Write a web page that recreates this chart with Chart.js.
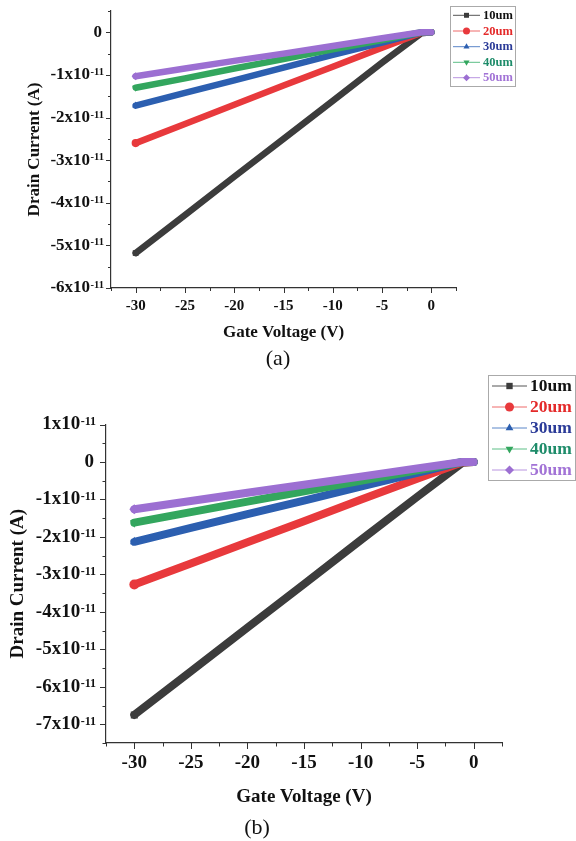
<!DOCTYPE html>
<html>
<head>
<meta charset="utf-8">
<script src="https://cdn.jsdelivr.net/npm/chart.js@4.4.1/dist/chart.umd.min.js"></script>
<style>
  body { margin: 0; background: #fff; width: 576px; height: 841px; position: relative; overflow: hidden; }
  .panel { position: absolute; left: 0; width: 576px; }
  .caption { position: absolute; font-family: "Liberation Serif", serif; font-size: 22px; color: #111; transform: translate(-50%, -50%); }
</style>
</head>
<body>
<div class="panel" style="top:0;height:372px"><canvas id="chartA" width="576" height="372"></canvas></div>
<div class="panel" style="top:372px;height:469px"><canvas id="chartB" width="576" height="469"></canvas></div>
<div class="caption" style="left:278px;top:358px">(a)</div>
<div class="caption" style="left:257px;top:827px">(b)</div>
<script>
// データ（電流は A 単位）
const gateVoltage = [-30, -25, -20, -15, -10, -5, -1, 0];
const seriesLabels = ['10um', '20um', '30um', '40um', '50um'];

// (a)
const currentA10 = [-5.18e-11, -4.29e-11, -3.39e-11, -2.50e-11, -1.61e-11, -0.71e-11, -0.02e-11, 0];
const currentA20 = [-2.60e-11, -2.15e-11, -1.70e-11, -1.25e-11, -0.81e-11, -0.36e-11, -0.01e-11, 0];
const currentA30 = [-1.72e-11, -1.42e-11, -1.13e-11, -0.83e-11, -0.53e-11, -0.24e-11, 0, 0];
const currentA40 = [-1.30e-11, -1.08e-11, -0.85e-11, -0.63e-11, -0.40e-11, -0.18e-11, 0, 0];
const currentA50 = [-1.03e-11, -0.85e-11, -0.67e-11, -0.50e-11, -0.32e-11, -0.14e-11, 0, 0];

// (b)
const currentB10 = [-6.75e-11, -5.59e-11, -4.42e-11, -3.26e-11, -2.09e-11, -0.93e-11, -0.02e-11, 0];
const currentB20 = [-3.27e-11, -2.71e-11, -2.14e-11, -1.58e-11, -1.01e-11, -0.45e-11, -0.01e-11, 0];
const currentB30 = [-2.13e-11, -1.76e-11, -1.39e-11, -1.03e-11, -0.66e-11, -0.29e-11, 0, 0];
const currentB40 = [-1.62e-11, -1.34e-11, -1.06e-11, -0.78e-11, -0.50e-11, -0.22e-11, 0, 0];
const currentB50 = [-1.26e-11, -1.04e-11, -0.82e-11, -0.61e-11, -0.39e-11, -0.17e-11, 0, 0];

// 目盛りラベル
const xTickLabels = [-30, -25, -20, -15, -10, -5, 0];
const yTickMantissaA = [0, -1, -2, -3, -4, -5, -6];
const yTickMantissaB = [1, 0, -1, -2, -3, -4, -5, -6, -7];

// スタイル
const lineColors = ['#3c3c3c', '#e8393c', '#2c5fb0', '#33a65e', '#9c6fd2'];
const legendLineColors = ['#555', '#ee6a6a', '#5a86c8', '#5cbf86', '#b994e0'];
const legendTextColors = ['#111', '#e42a2a', '#2b3b98', '#1e8c6a', '#a273d6'];
const pointStyles = ['rect', 'circle', 'triangle', 'triangle', 'rectRot'];
const pointRotations = [0, 0, 0, 180, 0];
const FONT = '"Liberation Serif", "Times New Roman", serif';

function makeDatasets(seriesList, width) {
  return seriesList.map((vals, i) => ({
    label: seriesLabels[i],
    data: gateVoltage.map((v, j) => ({ x: v, y: vals[j] })),
    borderColor: lineColors[i],
    backgroundColor: lineColors[i],
    borderWidth: width,
    borderCapStyle: 'round',
    borderJoinStyle: 'round',
    pointStyle: pointStyles[i],
    pointRotation: pointRotations[i],
    pointRadius: ctx => ctx.dataIndex === 0 ? width * 0.62 : 0,
    pointBorderWidth: 0,
    pointHoverRadius: 0,
    tension: 0,
    order: 4 - i   // 50um を最前面に
  }));
}

function drawMarker(ctx, style, rotation, r, x, y) {
  if (Chart.helpers && Chart.helpers.drawPoint) {
    Chart.helpers.drawPoint(ctx, { pointStyle: style, rotation: rotation, radius: r, borderWidth: 0 }, x, y);
  } else {
    ctx.beginPath();
    ctx.arc(x, y, r, 0, Math.PI * 2);
    ctx.fill();
  }
}

// 軸の目盛り・上付きラベル・凡例
const axisDecor = {
  id: 'axisDecor',
  afterDraw(chart, args, opts) {
    const ctx = chart.ctx;
    const xs = chart.scales.x;
    const ys = chart.scales.y;
    ctx.save();
    ctx.strokeStyle = '#333';
    ctx.lineWidth = 1;

    // x 目盛り
    for (let v = xs.min; v <= xs.max + 1e-9; v += 2.5) {
      const px = Math.round(xs.getPixelForValue(v)) + 0.5;
      const major = Math.abs(v % 5) < 1e-9;
      ctx.beginPath();
      ctx.moveTo(px, xs.top);
      ctx.lineTo(px, xs.top + (major ? opts.majorLen : opts.minorLen));
      ctx.stroke();
    }
    // y 目盛り
    for (let k = Math.round(ys.min / 0.5e-11); k <= Math.round(ys.max / 0.5e-11); k++) {
      const py = Math.round(ys.getPixelForValue(k * 0.5e-11)) + 0.5;
      const major = k % 2 === 0;
      ctx.beginPath();
      ctx.moveTo(ys.right, py);
      ctx.lineTo(ys.right - (major ? opts.majorLen : opts.minorLen), py);
      ctx.stroke();
    }

    // y ラベル (x10^-11)
    ctx.fillStyle = '#111';
    const right = ys.right - opts.labelGap;
    opts.yLabels.forEach(m => {
      const py = ys.getPixelForValue(m * 1e-11);
      const mainFont = `bold ${opts.tickSize}px ${FONT}`;
      if (m === 0) {
        ctx.font = mainFont;
        ctx.textAlign = 'right';
        ctx.textBaseline = 'middle';
        ctx.fillText('0', right - 2, py);
        return;
      }
      ctx.font = `bold ${opts.supSize}px ${FONT}`;
      const supW = ctx.measureText('-11').width;
      ctx.textAlign = 'left';
      ctx.textBaseline = 'alphabetic';
      ctx.fillText('-11', right - supW, py + opts.supShift);
      ctx.font = mainFont;
      ctx.textAlign = 'right';
      ctx.textBaseline = 'middle';
      ctx.fillText(m + 'x10', right - supW - 0.5, py);
    });

    // 凡例
    const lg = opts.legend;
    ctx.strokeStyle = '#aaa';
    ctx.lineWidth = 1;
    ctx.strokeRect(lg.x + 0.5, lg.y + 0.5, lg.w, lg.h);
    chart.data.datasets.forEach((ds, i) => {
      const ry = lg.rowY[i];
      ctx.strokeStyle = legendLineColors[i];
      ctx.lineWidth = 1;
      ctx.beginPath();
      ctx.moveTo(lg.lineX1, ry);
      ctx.lineTo(lg.lineX2, ry);
      ctx.stroke();
      ctx.fillStyle = lineColors[i];
      drawMarker(ctx, pointStyles[i], pointRotations[i], lg.markR, (lg.lineX1 + lg.lineX2) / 2, ry);
      ctx.fillStyle = legendTextColors[i];
      ctx.font = `bold ${lg.size}px ${FONT}`;
      ctx.textAlign = 'left';
      ctx.textBaseline = 'middle';
      ctx.fillText(ds.label, lg.textX, ry + 0.5);
    });
    ctx.restore();
  }
};

function makeChart(id, seriesList, cfg) {
  return new Chart(document.getElementById(id), {
    type: 'line',
    data: { datasets: makeDatasets(seriesList, cfg.lineWidth) },
    options: {
      responsive: false,
      devicePixelRatio: 1,
      animation: false,
      layout: { padding: cfg.padding },
      plugins: {
        legend: { display: false },
        tooltip: { enabled: false },
        axisDecor: cfg.decor
      },
      scales: {
        x: {
          type: 'linear',
          min: -32.5,
          max: 2.5,
          afterBuildTicks: s => { s.ticks = xTickLabels.map(v => ({ value: v })); },
          afterFit: s => { s.height = cfg.xHeight; },
          grid: { display: false, drawTicks: false },
          border: { display: true, color: '#333', width: 1.2 },
          ticks: {
            padding: cfg.xTickPad,
            color: '#111',
            maxRotation: 0,
            autoSkip: false,
            font: { family: FONT, size: cfg.xTickSize, weight: 'bold' },
            callback: v => String(v)
          },
          title: {
            display: true,
            text: 'Gate Voltage (V)',
            color: '#111',
            font: { family: FONT, size: cfg.titleSize, weight: 'bold' },
            padding: { top: 0, bottom: cfg.xTitlePad }
          }
        },
        y: {
          type: 'linear',
          min: cfg.yMin,
          max: cfg.yMax,
          afterBuildTicks: s => { s.ticks = cfg.decor.yLabels.map(m => ({ value: m * 1e-11 })); },
          afterFit: s => { s.width = cfg.yWidth; },
          grid: { display: false, drawTicks: false },
          border: { display: true, color: '#333', width: 1.2 },
          ticks: { display: false },
          title: {
            display: true,
            text: 'Drain Current (A)',
            color: '#111',
            font: { family: FONT, size: cfg.titleSize, weight: 'bold' },
            padding: { top: cfg.yTitlePad, bottom: 0 }
          }
        }
      }
    },
    plugins: [axisDecor]
  });
}

makeChart('chartA', [currentA10, currentA20, currentA30, currentA40, currentA50], {
  lineWidth: 6.5,
  padding: { left: 0, top: 11, right: 120, bottom: 20 },
  yMin: -6e-11, yMax: 0.5e-11,
  xHeight: 64, yWidth: 111,
  xTickPad: 9.5, xTickSize: 15, titleSize: 17,
  xTitlePad: 8.8, yTitlePad: 24,
  decor: {
    yLabels: yTickMantissaA,
    majorLen: 5, minorLen: 3, labelGap: 7,
    tickSize: 17, supSize: 10.5, supShift: 0,
    legend: { x: 450, y: 6, w: 65, h: 80, rowY: [15.3, 31, 46.7, 62.3, 77.7], lineX1: 453, lineX2: 480, markR: 3.5, textX: 483, size: 12.5 }
  }
});

makeChart('chartB', [currentB10, currentB20, currentB30, currentB40, currentB50], {
  lineWidth: 8,
  padding: { left: 0, top: 52.5, right: 74, bottom: 23 },
  yMin: -7.5e-11, yMax: 1e-11,
  xHeight: 75, yWidth: 106,
  xTickPad: 8.6, xTickSize: 19, titleSize: 19,
  xTitlePad: 9.6, yTitlePad: 7,
  decor: {
    yLabels: yTickMantissaB,
    majorLen: 6, minorLen: 3.5, labelGap: 10,
    tickSize: 19, supSize: 12, supShift: 0.5,
    legend: { x: 488, y: 3, w: 87, h: 105, rowY: [14, 35, 56, 77, 98], lineX1: 492, lineX2: 527, markR: 4.5, textX: 530, size: 17.5 }
  }
});
</script>
</body>
</html>
